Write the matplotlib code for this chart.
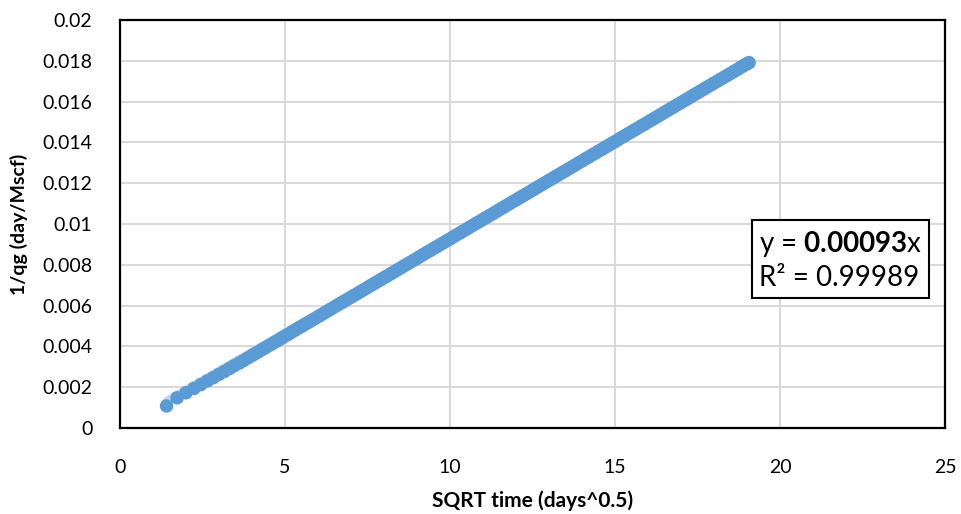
import numpy as np
import matplotlib
matplotlib.use("Agg")
import matplotlib.pyplot as plt

# data (x = SQRT time, y = 1/qg)
sqrt_t = [1.41, 1.73, 2.00, 2.24, 2.45, 2.65, 2.83, 3.00, 3.16, 3.32, 3.46, 3.61,
          3.74, 3.87,
          4.0, 4.1, 4.2, 4.3, 4.4, 4.5, 4.6, 4.7, 4.8, 4.9,
          5.0, 5.1, 5.2, 5.3, 5.4, 5.5, 5.6, 5.7, 5.8, 5.9,
          6.0, 6.1, 6.2, 6.3, 6.4, 6.5, 6.6, 6.7, 6.8, 6.9,
          7.0, 7.1, 7.2, 7.3, 7.4, 7.5, 7.6, 7.7, 7.8, 7.9,
          8.0, 8.1, 8.2, 8.3, 8.4, 8.5, 8.6, 8.7, 8.8, 8.9,
          9.0, 9.1, 9.2, 9.3, 9.4, 9.5, 9.6, 9.7, 9.8, 9.9,
          10.0, 10.1, 10.2, 10.3, 10.4, 10.5, 10.6, 10.7, 10.8, 10.9,
          11.0, 11.1, 11.2, 11.3, 11.4, 11.5, 11.6, 11.7, 11.8, 11.9,
          12.0, 12.1, 12.2, 12.3, 12.4, 12.5, 12.6, 12.7, 12.8, 12.9,
          13.0, 13.1, 13.2, 13.3, 13.4, 13.5, 13.6, 13.7, 13.8, 13.9,
          14.0, 14.1, 14.2, 14.3, 14.4, 14.5, 14.6, 14.7, 14.8, 14.9,
          15.0, 15.1, 15.2, 15.3, 15.4, 15.5, 15.6, 15.7, 15.8, 15.9,
          16.0, 16.1, 16.2, 16.3, 16.4, 16.5, 16.6, 16.7, 16.8, 16.9,
          17.0, 17.1, 17.2, 17.3, 17.4, 17.5, 17.6, 17.7, 17.8, 17.9,
          18.0, 18.1, 18.2, 18.3, 18.4, 18.5, 18.6, 18.7, 18.8, 18.9,
          19.0, 19.06]
inv_qg = [0.00108, 0.00148, 0.00173, 0.00194, 0.00213, 0.00231, 0.00247, 0.00263,
          0.00277, 0.00292, 0.00305, 0.00318, 0.00330, 0.00343,
          0.00355, 0.00365, 0.00374, 0.00384, 0.00393, 0.00403, 0.00412, 0.00422, 0.00431, 0.00441,
          0.00451, 0.00460, 0.00470, 0.00479, 0.00489, 0.00498, 0.00508, 0.00517, 0.00527, 0.00536,
          0.00546, 0.00555, 0.00565, 0.00575, 0.00584, 0.00594, 0.00603, 0.00613, 0.00622, 0.00632,
          0.00641, 0.00651, 0.00660, 0.00670, 0.00679, 0.00689, 0.00699, 0.00708, 0.00718, 0.00727,
          0.00737, 0.00746, 0.00756, 0.00765, 0.00775, 0.00784, 0.00794, 0.00803, 0.00813, 0.00822,
          0.00832, 0.00842, 0.00851, 0.00861, 0.00870, 0.00880, 0.00889, 0.00899, 0.00908, 0.00918,
          0.00927, 0.00937, 0.00947, 0.00956, 0.00966, 0.00975, 0.00985, 0.00994, 0.01004, 0.01013,
          0.01023, 0.01032, 0.01042, 0.01051, 0.01061, 0.01071, 0.01080, 0.01090, 0.01099, 0.01109,
          0.01118, 0.01128, 0.01137, 0.01147, 0.01156, 0.01166, 0.01176, 0.01185, 0.01195, 0.01204,
          0.01214, 0.01223, 0.01233, 0.01242, 0.01252, 0.01261, 0.01271, 0.01280, 0.01290, 0.01300,
          0.01309, 0.01319, 0.01328, 0.01338, 0.01347, 0.01357, 0.01366, 0.01376, 0.01385, 0.01395,
          0.01404, 0.01414, 0.01424, 0.01433, 0.01443, 0.01452, 0.01462, 0.01471, 0.01481, 0.01490,
          0.01500, 0.01509, 0.01519, 0.01528, 0.01538, 0.01548, 0.01557, 0.01567, 0.01576, 0.01586,
          0.01595, 0.01605, 0.01614, 0.01624, 0.01634, 0.01643, 0.01653, 0.01662, 0.01672, 0.01681,
          0.01691, 0.01700, 0.01710, 0.01719, 0.01729, 0.01738, 0.01748, 0.01757, 0.01767, 0.01777,
          0.01786, 0.01791]

# trendline y = 0.00093x over the data range
trend_x = [1.41, 19.06]
trend_y = [0.00132, 0.01777]

eq_text = "y = $\\mathbf{0.00093}$x\nR² = 0.99989"

plt.rcParams["font.family"] = ["Lato", "DejaVu Sans"]
plt.rcParams["mathtext.fontset"] = "custom"
plt.rcParams["mathtext.rm"] = "Lato"
plt.rcParams["mathtext.bf"] = "Lato:bold"

fig = plt.figure(figsize=(9.61, 5.14), dpi=100)
ax = fig.add_axes([0.1249, 0.1673, 0.8585, 0.7938])

ax.plot(trend_x, trend_y, color="#c8d6e8", lw=6, solid_capstyle="round", zorder=2)
ax.scatter(sqrt_t, inv_qg, s=95, color="#5b9bd5", edgecolors="none", zorder=3)

ax.set_xlim(0, 25)
ax.set_ylim(0, 0.02)
ax.set_xticks([0, 5, 10, 15, 20, 25])
ax.set_yticks([0, 0.002, 0.004, 0.006, 0.008, 0.01, 0.012, 0.014, 0.016, 0.018, 0.02])
ax.set_yticklabels(["0", "0.002", "0.004", "0.006", "0.008", "0.01", "0.012",
                    "0.014", "0.016", "0.018", "0.02"])
ax.tick_params(length=0, labelsize=14, pad=20)
ax.tick_params(axis="x", pad=22)
ax.grid(True, color="#d9d9d9", lw=1.5)
ax.set_axisbelow(True)
for s in ax.spines.values():
    s.set_linewidth(1.6)
    s.set_color("black")

ax.set_xlabel("SQRT time (days^0.5)", fontsize=15, fontweight="bold", labelpad=11)
ax.set_ylabel("1/qg (day/Mscf)", fontsize=14, fontweight="bold", labelpad=10)

ax.text(19.35, 0.00822, eq_text, fontsize=20, ha="left", va="center",
        linespacing=1.3,
        bbox=dict(boxstyle="square,pad=0.25", fc="white", ec="black", lw=1.5),
        zorder=5)

fig.savefig("out.png", dpi=100)
